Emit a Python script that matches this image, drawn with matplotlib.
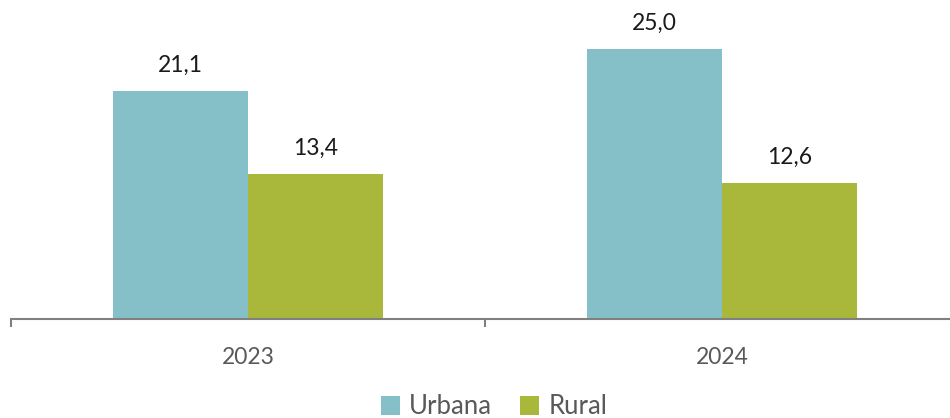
import matplotlib
matplotlib.use("Agg")
import matplotlib.pyplot as plt
import numpy as np

categories = ["2023", "2024"]
series_names = ["Urbana", "Rural"]
urbana = [21.1, 25.0]
rural = [13.4, 12.6]
colors = ["#85C0C8", "#A9B73A"]

plt.rcParams['font.family'] = ['Lato', 'DejaVu Sans']

fig = plt.figure(figsize=(9.5, 4.18), dpi=100)
ax = fig.add_axes([11/950, 99/418, 948/950, 319/418])

x = np.arange(len(categories))
w = 0.285
vals = [urbana, rural]
offs = [-w/2, w/2]
for name, v, off, c in zip(series_names, vals, offs, colors):
    bars = ax.bar(x + off, v, width=w, color=c, label=name, zorder=2)
    for b, val in zip(bars, v):
        ax.annotate(f"{val:.1f}".replace(".", ","), (b.get_x() + b.get_width()/2, val),
                    xytext=(0, 11), textcoords="offset points", ha="center", va="bottom",
                    fontsize=16.5, color="#1a1a1a")

ax.set_xlim(-0.5, 1.5)
ax.set_ylim(0, 319/10.8)
ax.set_xticks([-0.5, 0.5, 1.5])
ax.set_xticklabels([])
ax.set_xticks(x, minor=True)
ax.set_xticklabels(categories, minor=True, fontsize=16.5, color="#595959")
ax.tick_params(axis="x", which="major", length=6, width=1.5, color="#808080")
ax.tick_params(axis="x", which="minor", length=0, pad=20)
ax.set_yticks([])
for s in ["top", "right", "left"]:
    ax.spines[s].set_visible(False)
ax.spines["bottom"].set_color("#808080")
ax.spines["bottom"].set_linewidth(1.5)

leg = fig.legend(loc="center", bbox_to_anchor=(0.52, (418-407)/418), ncol=2, frameon=False,
                 fontsize=18.5, handlelength=0.75, handleheight=0.75, handletextpad=0.35, columnspacing=1.1,
                 labelcolor="#595959")

fig.savefig("out.png", dpi=100)
